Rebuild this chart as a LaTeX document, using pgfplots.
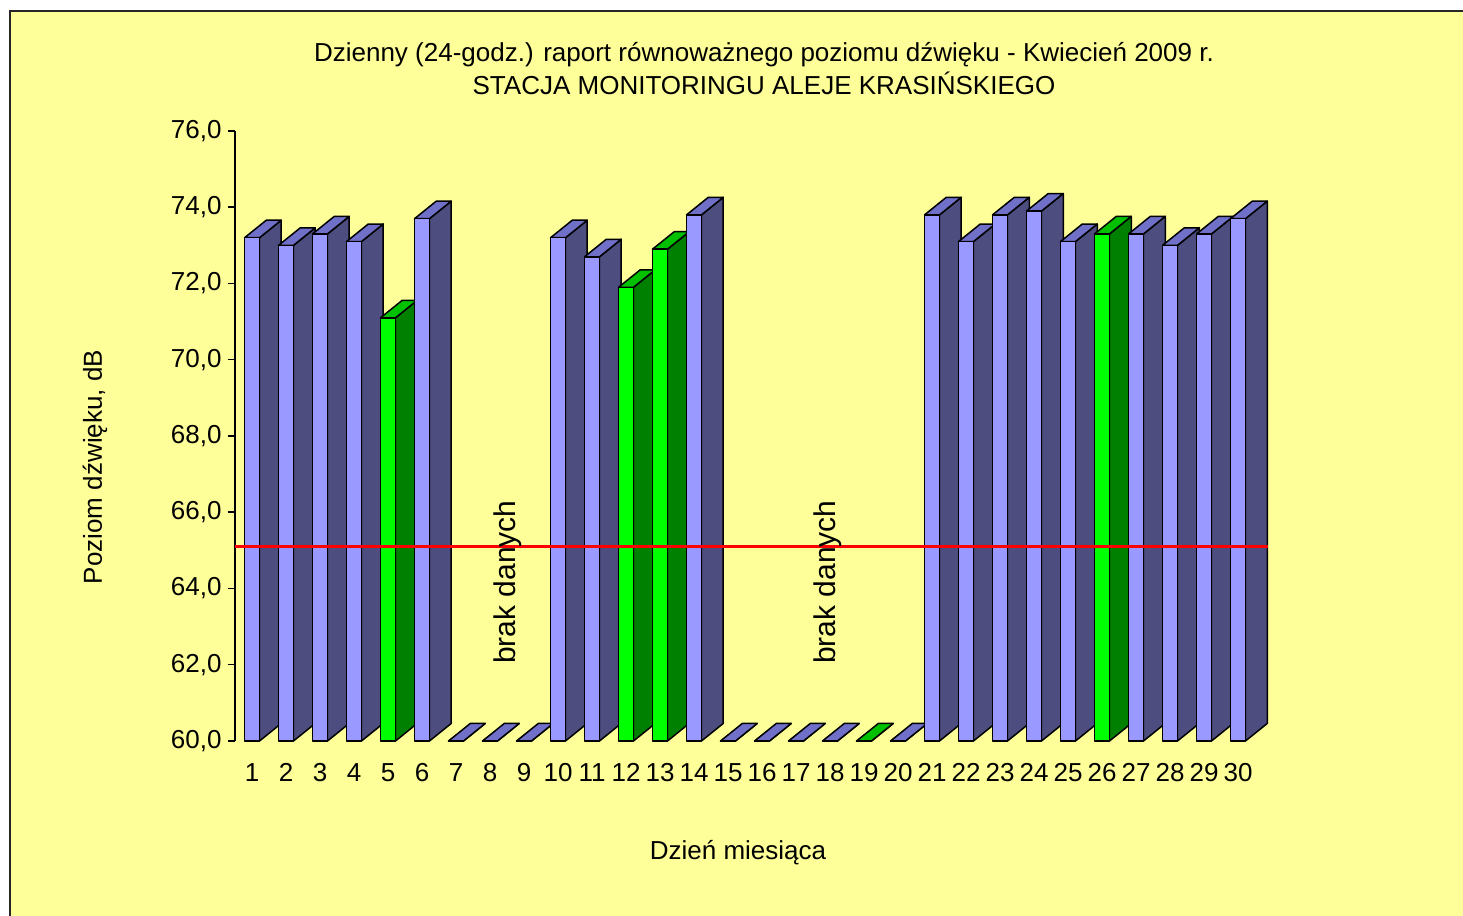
\documentclass[border=0pt]{standalone}
\usepackage{pgfplots}
\pgfplotsset{compat=1.18}
\usepackage{pgfplotstable}
\usepackage{fontspec}
\setmainfont{Liberation Sans}
\definecolor{bg}{RGB}{255,255,153}
\definecolor{bfront}{RGB}{153,153,255}
\definecolor{bside}{RGB}{77,77,128}
\definecolor{btop}{RGB}{112,112,200}
\definecolor{gfront}{RGB}{0,255,0}
\definecolor{gside}{RGB}{0,128,0}
\definecolor{gtop}{RGB}{0,192,0}

\pgfplotstableread{
day val g
1 73.2 0
2 73.0 0
3 73.3 0
4 73.1 0
5 71.1 1
6 73.7 0
7 60 0
8 60 0
9 60 0
10 73.2 0
11 72.7 0
12 71.9 1
13 72.9 1
14 73.8 0
15 60 0
16 60 0
17 60 0
18 60 0
19 60 1
20 60 0
21 73.8 0
22 73.1 0
23 73.8 0
24 73.9 0
25 73.1 0
26 73.3 1
27 73.3 0
28 73.0 0
29 73.3 0
30 73.7 0
}\data

\def\hw{0.22}\def\dxx{0.64}\def\dyy{0.46}
\newcommand\drawbar[3]{%
  \pgfmathsetmacro\xl{#1-\hw}%
  \pgfmathsetmacro\xr{#1+\hw}%
  \pgfmathsetmacro\xlb{\xl+\dxx}%
  \pgfmathsetmacro\xrb{\xr+\dxx}%
  \pgfmathsetmacro\yb{60+\dyy}%
  \pgfmathsetmacro\yt{#2+\dyy}%
  \ifnum#3=1 \def\cf{gfront}\def\cs{gside}\def\ct{gtop}\else\def\cf{bfront}\def\cs{bside}\def\ct{btop}\fi
  \edef\tmp{%
    \noexpand\addplot[draw=black,line width=1.5pt,line join=round,fill=\cs] coordinates {(\xr,60) (\xrb,\yb) (\xrb,\yt) (\xr,#2)} --cycle;
    \noexpand\addplot[draw=black,line width=1.5pt,line join=round,fill=\ct] coordinates {(\xl,#2) (\xr,#2) (\xrb,\yt) (\xlb,\yt)} --cycle;
    \noexpand\addplot[draw=black,line width=1.5pt,line join=round,fill=\cf] coordinates {(\xl,60) (\xr,60) (\xr,#2) (\xl,#2)} --cycle;
  }\tmp
}

\begin{document}
\begin{tikzpicture}
\fill[white] (-235pt,-174pt) rectangle (1228pt,741pt);
\filldraw[fill=bg, draw=black!85, line width=2.5pt] (-225pt,730pt) rectangle (1245pt,-190pt);
\begin{axis}[
  at={(0pt,0pt)}, anchor=south west,
  x=34pt, y=38.125pt,
  xmin=0.5, xmax=30.88, ymin=60, ymax=76,
  clip=false,
  axis y line*=left, axis x line*=bottom,
  x axis line style={draw=none},
  y axis line style={line width=1.5pt, -},
  ytick={60,62,...,76},
  xtick={1,...,30},
  x tick style={draw=none},
  y tick style={line width=1.5pt, black},
  tick align=outside, major tick length=7pt,
  /pgf/number format/assume math mode=true,
  yticklabel style={xshift=-3pt, /pgf/number format/.cd, fixed, fixed zerofill, precision=1, use comma},
  xticklabel style={yshift=-12pt, /pgf/number format/.cd, fixed, precision=0},
  tick label style={font=\fontsize{26}{30}\selectfont},
]
\pgfplotsforeachungrouped \i in {0,...,29}{%
  \pgfplotstablegetelem{\i}{day}\of\data \let\dd\pgfplotsretval
  \pgfplotstablegetelem{\i}{val}\of\data \let\vv\pgfplotsretval
  \pgfplotstablegetelem{\i}{g}\of\data \let\gg\pgfplotsretval
  \edef\cmd{\noexpand\drawbar{\dd}{\vv}{\gg}}\cmd
}
\addplot[red, line width=3pt] coordinates {(0.5,65.1) (30.88,65.1)};
\node[rotate=90, font=\fontsize{30}{36}\selectfont] at (axis cs:8.53,64.17) {brak danych};
\node[rotate=90, font=\fontsize{30}{36}\selectfont] at (axis cs:17.94,64.17) {brak danych};
\end{axis}
\node[font=\fontsize{26}{30}\selectfont] at (529pt,686pt) {Dzienny (24-godz.) raport równoważnego poziomu dźwięku - Kwiecień 2009 r.};
\node[font=\fontsize{26}{30}\selectfont] at (529pt,658pt) {STACJA MONITORINGU ALEJE KRASIŃSKIEGO};
\node[rotate=90, font=\fontsize{26}{30}\selectfont] at (-140pt,274pt) {Poziom dźwięku, dB};
\node[font=\fontsize{26}{30}\selectfont] at (503pt,-112pt) {Dzień miesiąca};
\pgfresetboundingbox
\path[use as bounding box] (-235pt,-174pt) rectangle (1228pt,741pt);
\end{tikzpicture}
\end{document}
